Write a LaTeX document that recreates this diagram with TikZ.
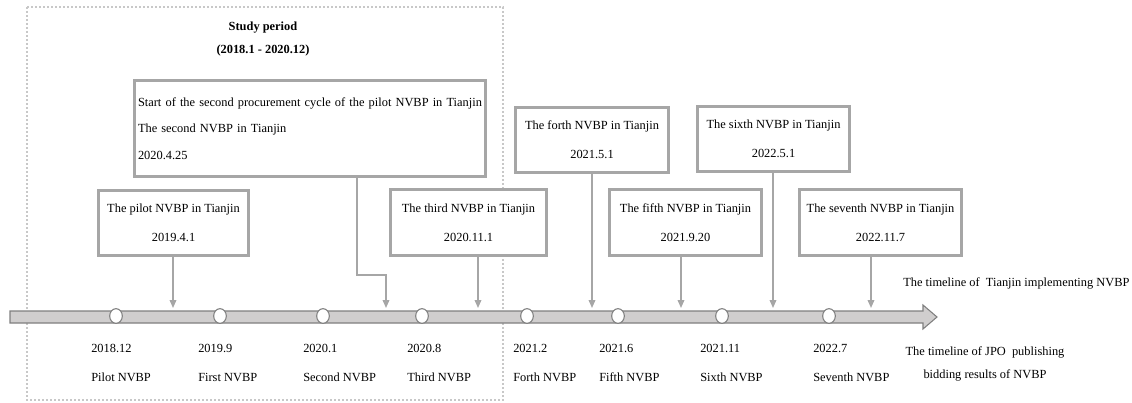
\documentclass[tikz,border=0pt]{standalone}
\usepackage{fontspec}
\setmainfont{Liberation Serif}
\usetikzlibrary{arrows.meta,shapes.geometric}
\definecolor{boxgray}{HTML}{A6A6A6}
\definecolor{bargray}{HTML}{D0CECE}
\definecolor{edgegray}{HTML}{7F7F7F}
\definecolor{dotgray}{HTML}{C8C8C8}
\tikzset{
  evbox/.style={draw=boxgray, line width=2.25pt, fill=white, inner sep=0pt, align=center,
    font=\fontsize{9.3}{21.75}\selectfont},
  arr/.style={draw=boxgray, line width=1.1pt, -{Triangle[width=5pt,length=6pt]}},
  lbl/.style={anchor=west, align=left, inner sep=0pt, font=\fontsize{9.3}{21.75}\selectfont},
  dotc/.style={ellipse, draw=edgegray, fill=white, line width=0.8pt, inner sep=0pt,
    minimum width=9.5pt, minimum height=11pt},
  plain/.style={inner sep=0pt, font=\fontsize{9.3}{17.25}\selectfont}
}
\begin{document}
\begin{tikzpicture}[x=0.75pt,y=-0.75pt]
\useasboundingbox (0,0) rectangle (1132,403);
% study period frame
\draw[dotgray, line width=1.5pt, dash pattern=on 1.5pt off 1.5pt] (27,7) rectangle (503,400);
\node[plain, align=center, font=\bfseries\fontsize{9.3}{17.25}\selectfont] (study) at (263,39.5)
  {Study period\\(2018.1 - 2020.12)};
% timeline bar
\draw[fill=bargray, draw=edgegray, line width=0.8pt]
  (10,311) -- (923,311) -- (923,305) -- (937,317) -- (923,329) -- (923,323) -- (10,323) -- cycle;
% circles
\foreach \n/\x in {1/116,2/220,3/323,4/422,5/527,6/618,7/722,8/829}
  \node[dotc] (c\n) at (\x,316) {};
% labels below
\node[lbl] (l1) at (91,362.5) {2018.12\\Pilot NVBP};
\node[lbl] (l2) at (198,362.5) {2019.9\\First NVBP};
\node[lbl] (l3) at (303,362.5) {2020.1\\Second NVBP};
\node[lbl] (l4) at (407,362.5) {2020.8\\Third NVBP};
\node[lbl] (l5) at (513,362.5) {2021.2\\Forth NVBP};
\node[lbl] (l6) at (599,362.5) {2021.6\\Fifth NVBP};
\node[lbl] (l7) at (700,362.5) {2021.11\\Sixth NVBP};
\node[lbl] (l8) at (813,362.5) {2022.7\\Seventh NVBP};
% right texts
\node[plain, anchor=west] (tl1) at (903,283) {The timeline of\ \ Tianjin implementing NVBP};
\node[plain, align=center, font=\fontsize{9.3}{17.25}\selectfont] (tl2) at (985,363.5)
  {The timeline of JPO\ \ publishing\\bidding results of NVBP};
% event boxes
\node[evbox, minimum width=112.5pt, minimum height=48.75pt] (pilot) at (173.5,223)
  {The pilot NVBP in Tianjin\\2019.4.1};
\node[evbox, align=left, text width=258pt, inner xsep=2.6pt, minimum height=72pt,
  font=\fontsize{9.3}{20}\selectfont] (second) at (310,128.5)
  {\mbox{Start of the second procurement cycle of the pilot NVBP in Tianjin}\\The second NVBP in Tianjin\\2020.4.25};
\node[evbox, minimum width=117pt, minimum height=49.5pt] (third) at (468.5,222.5)
  {The third NVBP in Tianjin\\2020.11.1};
\node[evbox, minimum width=114.75pt, minimum height=48.75pt] (forth) at (592,140)
  {The forth NVBP in Tianjin\\2021.5.1};
\node[evbox, minimum width=114pt, minimum height=49.5pt] (fifth) at (685.5,222.5)
  {The fifth NVBP in Tianjin\\2021.9.20};
\node[evbox, minimum width=114pt, minimum height=48.75pt] (sixth) at (773.5,139)
  {The sixth NVBP in Tianjin\\2022.5.1};
\node[evbox, minimum width=121.5pt, minimum height=49.5pt] (seventh) at (880.5,222.5)
  {The seventh NVBP in Tianjin\\2022.11.7};
% arrow end points on the timeline
\coordinate (t1) at (173,308);
\coordinate (k2) at (357,275);
\coordinate (t2) at (386,308);
\coordinate (t3) at (478,308);
\coordinate (t4) at (592,308);
\coordinate (t5) at (681,308);
\coordinate (t6) at (773,308);
\coordinate (t7) at (871,308);
% connectors
\draw[arr] (pilot.south -| t1) -- (t1);
\draw[arr] (second.south -| k2) -- (k2) -| (t2);
\draw[arr] (third.south -| t3) -- (t3);
\draw[arr] (forth.south -| t4) -- (t4);
\draw[arr] (fifth.south -| t5) -- (t5);
\draw[arr] (sixth.south -| t6) -- (t6);
\draw[arr] (seventh.south -| t7) -- (t7);
\end{tikzpicture}
\end{document}
